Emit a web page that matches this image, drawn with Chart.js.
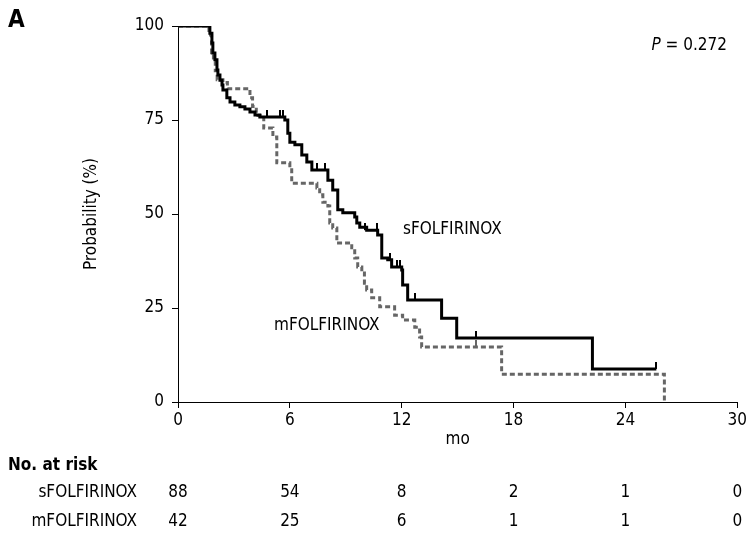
<!DOCTYPE html>
<html>
<head>
<meta charset="utf-8">
<script src="https://cdn.jsdelivr.net/npm/chart.js@4.4.0/dist/chart.umd.min.js"></script>
<style>
  html, body { margin: 0; padding: 0; background: #fff; }
  #wrap { width: 749px; height: 536px; position: relative; }
</style>
</head>
<body>
<div id="wrap"><canvas id="kmChart"></canvas></div>
<script>
// Kaplan-Meier steps (months, % surviving after each step)
const sTimes = [0, 1.71, 1.82, 1.87, 1.98, 2.09, 2.14, 2.25, 2.36, 2.41, 2.62, 2.79, 3.05, 3.32, 3.59, 3.86, 4.13, 4.39,
  5.73, 5.89, 6.0, 6.27, 6.64, 6.91, 7.18, 8.04, 8.30, 8.57, 8.84, 9.48, 9.59, 9.75, 10.12,
  10.71, 10.93, 11.25, 11.46, 12.0, 12.05, 12.32, 14.14, 14.95, 22.23, 25.66];
const sSurv = [100, 98.1, 95.5, 92.8, 91.0, 88.3, 87.0, 85.6, 84.3, 83.0, 80.9, 79.8, 79.0, 78.5, 77.9, 77.1, 76.3, 75.8,
  75.0, 71.5, 69.1, 68.4, 65.7, 63.8, 61.7, 59.0, 56.4, 51.1, 50.3, 49.2, 47.6, 46.5, 45.7,
  44.4, 38.3, 37.8, 35.9, 35.1, 31.1, 27.1, 22.3, 17.0, 8.8, 8.8];

const mTimes = [0, 1.66, 1.8, 1.9, 2.0, 2.1, 2.41, 2.65, 3.86, 4.0, 4.2, 4.6, 5.09, 5.3, 6.0, 6.1,
  7.45, 7.6, 7.77, 8.04, 8.14, 8.3, 8.52, 9.32, 9.48, 9.64, 9.86, 10.0, 10.12, 10.39,
  10.82, 11.62, 12.05, 12.7, 12.96, 13.07, 17.36, 26.09];
const mSurv = [100, 97.6, 92.9, 90.5, 88.1, 85.7, 85.0, 83.3, 80.9, 78.6, 76.2, 72.9, 70.5, 63.6, 62.2, 58.2,
  56.9, 55.1, 53.1, 52.1, 47.6, 46.3, 42.3, 41.0, 38.3, 35.9, 34.3, 31.6, 29.8, 27.7,
  25.3, 23.1, 21.8, 19.9, 17.3, 14.6, 7.4, 0];

// censored observations (tick marks)
const sCensorT = [4.77, 5.46, 5.62, 7.45, 7.87, 10.02, 10.66, 11.36, 11.73, 11.89, 12.7, 16.0, 25.66];
const sCensorS = [75.8, 75.8, 75.8, 61.7, 61.7, 45.7, 45.7, 37.8, 35.9, 35.9, 27.1, 17.0, 8.8];
const mCensorT = [16.0];
const mCensorS = [14.6];

// number at risk table
const riskTimes = [0, 6, 12, 18, 24, 30];
const sRisk = [88, 54, 8, 2, 1, 0];
const mRisk = [42, 25, 6, 1, 1, 0];

const FONT = "'DejaVu Sans Condensed', 'DejaVu Sans', sans-serif";
const BLACK = '#000000';
const GREY = '#666666';

function toPoints(xs, ys) {
    return xs.map((x, i) => ({ x: x, y: ys[i] }));
}

// small vertical tick used as censor mark, sits on top of the curve
function censorMark(color) {
    const c = document.createElement('canvas');
    c.width = 2;
    c.height = 14;
    const g = c.getContext('2d');
    g.fillStyle = color;
    g.fillRect(0, 0, 2, 7);
    return c;
}

const extraText = {
    id: 'extraText',
    afterDraw(chart) {
        const ctx = chart.ctx;
        const xs = chart.scales.x;
        const ys = chart.scales.y;
        ctx.save();
        ctx.fillStyle = BLACK;
        ctx.textBaseline = 'middle';

        // panel letter
        ctx.font = 'bold 24px ' + FONT;
        ctx.textAlign = 'left';
        ctx.fillText('A', 8, 21);

        // P value
        ctx.font = '17px ' + FONT;
        const rest = ' = 0.272';
        const restW = ctx.measureText(rest).width;
        ctx.textAlign = 'right';
        ctx.fillText(rest, 727, 46);
        ctx.font = 'italic 17px ' + FONT;
        ctx.fillText('P', 727 - restW, 46);

        // curve labels
        ctx.font = '17px ' + FONT;
        ctx.textAlign = 'left';
        ctx.fillText('sFOLFIRINOX', 403, 230);
        ctx.fillText('mFOLFIRINOX', 274, 326);

        // y axis title
        ctx.save();
        ctx.translate(92, (ys.top + ys.bottom) / 2);
        ctx.rotate(-Math.PI / 2);
        ctx.textAlign = 'center';
        ctx.fillText('Probability (%)', 0, 0);
        ctx.restore();

        // x axis title
        ctx.textAlign = 'center';
        ctx.fillText('mo', (xs.left + xs.right) / 2, 440);

        // number at risk
        ctx.font = 'bold 17px ' + FONT;
        ctx.textAlign = 'left';
        ctx.fillText('No. at risk', 8, 466);

        ctx.font = '17px ' + FONT;
        ctx.textAlign = 'right';
        ctx.fillText('sFOLFIRINOX', 137, 493);
        ctx.fillText('mFOLFIRINOX', 137, 522);

        ctx.textAlign = 'center';
        riskTimes.forEach((t, i) => {
            const px = xs.getPixelForValue(t);
            ctx.fillText(String(sRisk[i]), px, 493);
            ctx.fillText(String(mRisk[i]), px, 522);
        });
        ctx.restore();
    }
};

const axisCommon = {
    grid: { display: true, drawOnChartArea: false, drawTicks: true, tickLength: 6, color: BLACK },
    border: { display: true, color: BLACK, width: 1 }
};

new Chart(document.getElementById('kmChart'), {
    type: 'line',
    data: {
        datasets: [
            {
                label: 'sFOLFIRINOX',
                data: toPoints(sTimes, sSurv),
                stepped: true,
                borderColor: BLACK,
                borderWidth: 3,
                pointRadius: 0,
                fill: false
            },
            {
                label: 'sCensor',
                data: toPoints(sCensorT, sCensorS),
                showLine: false,
                pointStyle: censorMark(BLACK),
                pointRadius: 4
            },
            {
                label: 'mCensor',
                data: toPoints(mCensorT, mCensorS),
                showLine: false,
                pointStyle: censorMark(GREY),
                pointRadius: 4
            },
            {
                label: 'mFOLFIRINOX',
                data: toPoints(mTimes, mSurv),
                stepped: true,
                borderColor: GREY,
                borderWidth: 3,
                borderDash: [5, 3],
                pointRadius: 0,
                fill: false
            }
        ]
    },
    options: {
        responsive: true,
        maintainAspectRatio: false,
        animation: false,
        layout: { padding: { top: 26, right: 11, left: 0, bottom: 0 } },
        plugins: {
            legend: { display: false },
            tooltip: { enabled: false }
        },
        scales: {
            x: {
                type: 'linear',
                min: 0,
                max: 30,
                ticks: {
                    stepSize: 6,
                    color: BLACK,
                    padding: 2,
                    maxRotation: 0,
                    font: { family: FONT, size: 17 }
                },
                afterFit: (s) => { s.height = 134; },
                ...axisCommon
            },
            y: {
                min: 0,
                max: 100,
                ticks: {
                    stepSize: 25,
                    color: BLACK,
                    padding: 8,
                    font: { family: FONT, size: 17 }
                },
                afterFit: (s) => { s.width = 178; },
                ...axisCommon
            }
        }
    },
    plugins: [extraText]
});
</script>
</body>
</html>
